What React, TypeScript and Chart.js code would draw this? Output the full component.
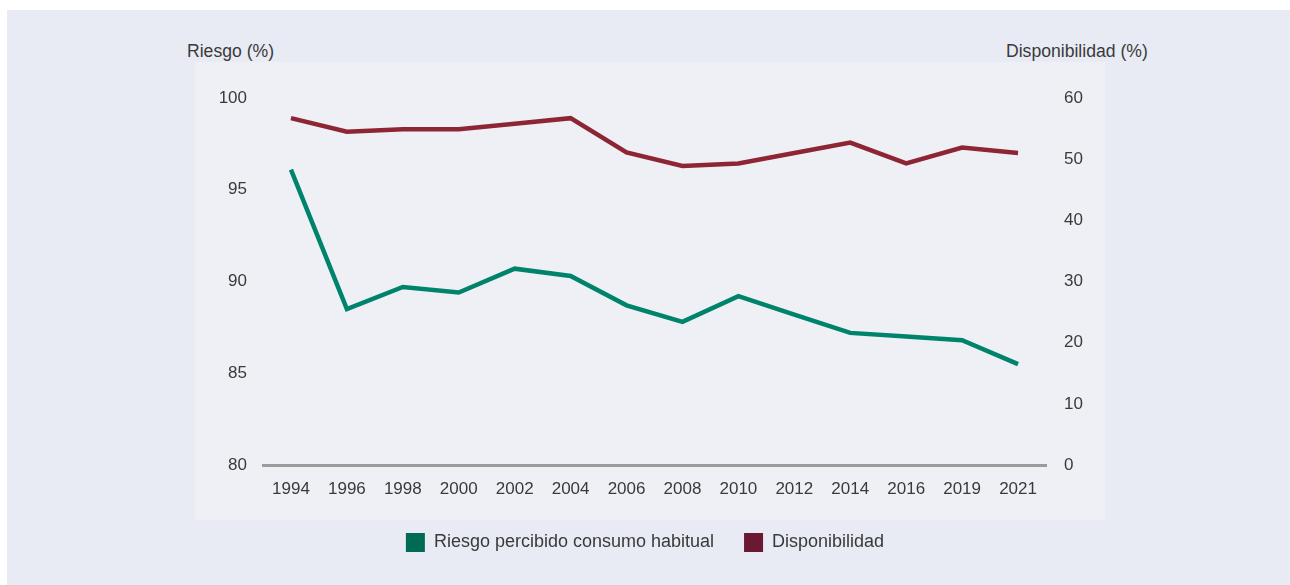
import React, { useEffect, useRef } from "react";
import { Chart, registerables } from "chart.js";

Chart.register(...registerables);

const years = ["1994", "1996", "1998", "2000", "2002", "2004", "2006", "2008", "2010", "2012", "2014", "2016", "2019", "2021"];
const riesgo = [96.1, 88.5, 89.7, 89.4, 90.7, 90.3, 88.7, 87.8, 89.2, 88.2, 87.2, 87.0, 86.8, 85.5];
const disponibilidad = [56.7, 54.5, 54.9, 54.9, 55.8, 56.7, 51.1, 48.9, 49.3, 51.0, 52.7, 49.3, 51.9, 51.0];
const seriesNames = ["Riesgo percibido consumo habitual", "Disponibilidad"];
const leftTitle = "Riesgo (%)";
const rightTitle = "Disponibilidad (%)";

const FONT = "'Liberation Sans', Arial, Helvetica, sans-serif";
const TEXT = "#3a3a3a";

export default function App() {
  const ref = useRef<HTMLCanvasElement | null>(null);

  useEffect(() => {
    if (!ref.current) return;
    const legendColors = ["#006b55", "#6b1833"];
    const chart = new Chart(ref.current, {
      type: "line",
      data: {
        labels: years,
        datasets: [
          {
            label: seriesNames[0],
            data: riesgo,
            borderColor: "#00836b",
            backgroundColor: legendColors[0],
            borderWidth: 4.5,
            pointRadius: 0,
            tension: 0,
            yAxisID: "y",
          },
          {
            label: seriesNames[1],
            data: disponibilidad,
            borderColor: "#8e2535",
            backgroundColor: legendColors[1],
            borderWidth: 4.5,
            pointRadius: 0,
            tension: 0,
            yAxisID: "y1",
          },
        ],
      },
      options: {
        animation: false,
        responsive: false,
        maintainAspectRatio: false,
        layout: { padding: { top: 98, bottom: 23, left: 0, right: 0 } },
        plugins: {
          tooltip: { enabled: false },
          legend: {
            position: "bottom",
            labels: {
              boxWidth: 19,
              boxHeight: 19,
              padding: 30,
              color: TEXT,
              font: { family: FONT, size: 18 },
              generateLabels: (c: any) =>
                c.data.datasets.map((ds: any, i: number) => ({
                  text: ds.label,
                  fillStyle: legendColors[i],
                  strokeStyle: legendColors[i],
                  lineWidth: 0,
                  hidden: false,
                  datasetIndex: i,
                  fontColor: TEXT,
                })),
            },
          },
        },
        scales: {
          x: {
            offset: true,
            grid: { display: false, drawTicks: false },
            border: { display: true, color: "#9b9b9b", width: 3 },
            ticks: { color: TEXT, font: { family: FONT, size: 17 }, padding: 14, maxRotation: 0, autoSkip: false },
            afterFit: (s: any) => { s.height = 38; },
          },
          y: {
            position: "left",
            min: 80,
            max: 100,
            grid: { display: false, drawTicks: false },
            border: { display: false },
            ticks: { stepSize: 5, color: TEXT, font: { family: FONT, size: 17 }, padding: 16 },
            afterFit: (s: any) => { s.width = 263; },
          },
          y1: {
            position: "right",
            min: 0,
            max: 60,
            grid: { display: false, drawTicks: false },
            border: { display: false },
            ticks: { stepSize: 10, color: TEXT, font: { family: FONT, size: 17 }, padding: 18 },
            afterFit: (s: any) => { s.width = 244; },
          },
        },
      },
    });
    return () => chart.destroy();
  }, []);

  const titleStyle: React.CSSProperties = {
    position: "absolute",
    top: 40,
    fontFamily: FONT,
    fontSize: 17.6,
    color: TEXT,
    lineHeight: "22px",
    whiteSpace: "nowrap",
  };

  return (
    <div style={{ position: "absolute", left: 0, top: 0, width: 1290, height: 585, background: "#ffffff", overflow: "hidden" }}>
      <div style={{ position: "absolute", left: 7, top: 10, width: 1283, height: 575, background: "#e8ebf3" }} />
      <div style={{ position: "absolute", left: 195, top: 62, width: 910, height: 458, background: "#eef0f5" }} />
      <div style={{ ...titleStyle, left: 187 }}>{leftTitle}</div>
      <div style={{ ...titleStyle, left: 1006 }}>{rightTitle}</div>
      <canvas ref={ref} width={1290} height={585} style={{ position: "absolute", left: 0, top: 0, width: 1290, height: 585 }} />
    </div>
  );
}
